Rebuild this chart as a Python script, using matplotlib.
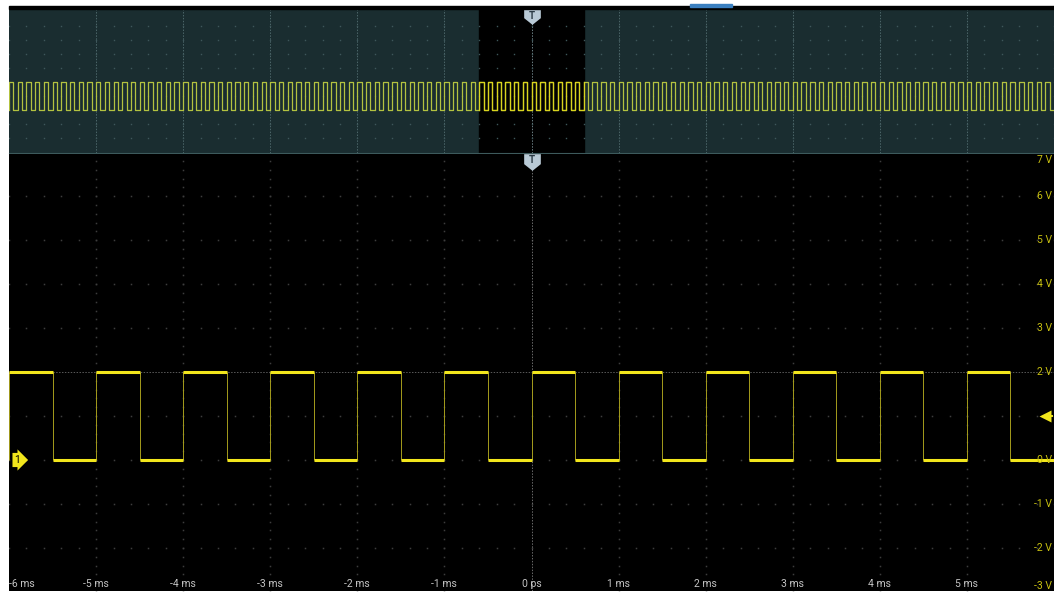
import numpy as np
import matplotlib
matplotlib.use("Agg")
import matplotlib.pyplot as plt
from matplotlib.path import Path
from matplotlib.patches import Rectangle
import matplotlib.transforms as mtransforms

# signal: 1 kHz square wave, 0 V / 2 V
period_ms = 1.0
high_v = 2.0
low_v = 0.0
rise_ms = [-6, -5, -4, -3, -2, -1, 0, 1, 2, 3, 4, 5]
fall_ms = [-5.5, -4.5, -3.5, -2.5, -1.5, -0.5, 0.5, 1.5, 2.5, 3.5, 4.5, 5.5]

# view ranges
main_span_ms = (-6, 6)
overview_span_ms = (-60, 60)
volt_range = (-2.98, 6.96)
overview_volt_range = (-3.07, 7.2)

time_ticks = [-6, -5, -4, -3, -2, -1, 0, 1, 2, 3, 4, 5]
time_labels = ["-6 ms", "-5 ms", "-4 ms", "-3 ms", "-2 ms", "-1 ms", "0 ps",
               "1 ms", "2 ms", "3 ms", "4 ms", "5 ms"]
volt_ticks = [7, 6, 5, 4, 3, 2, 0, -1, -2, -3]
volt_labels = ["7 V", "6 V", "5 V", "4 V", "3 V", "2 V", "0 V", "-1 V", "-2 V", "-3 V"]
trigger_level_v = 1.0

YELLOW = "#f2e61c"
TEAL = "#1a2d30"
W, H = 1054, 593

plt.rcParams["font.family"] = ["Roboto", "DejaVu Sans"]

fig = plt.figure(figsize=(W / 100, H / 100), dpi=100, facecolor="white")

def fx(px):
    return px / W

def fy(py):
    return 1 - py / H

ax_ov = fig.add_axes([fx(9), fy(153), 1 - fx(9), fy(9) - fy(153)])
ax = fig.add_axes([fx(9), fy(591), 1 - fx(9), fy(154) - fy(591)])

# top strip
fig.patches.append(Rectangle((fx(9), fy(9)), 1 - fx(9), fy(6) - fy(9),
                             transform=fig.transFigure, color="black", zorder=0))
fig.patches.append(Rectangle((fx(690), fy(7)), fx(42), fy(4) - fy(7),
                             transform=fig.transFigure, color="#3a7fc0", zorder=1))

# ---------- overview ----------
ax_ov.set_facecolor(TEAL)
ax_ov.set_xlim(*overview_span_ms)
ax_ov.set_ylim(*overview_volt_range)
ax_ov.axvspan(main_span_ms[0], main_span_ms[1], color="black", zorder=1)

for t in np.arange(-50, 60, 10):
    if t == 0:
        continue
    ax_ov.axvline(t, color="#4c6669", lw=0.7, ls=(0, (1.5, 1.5)), zorder=2)
ax_ov.axvline(0, color="#6c7f84", lw=0.7, ls=(0, (1.5, 1.5)), zorder=2)
dot_x = np.arange(-60, 60.1, 2)
for v in range(-2, 7):
    ax_ov.plot(dot_x, np.full_like(dot_x, v, dtype=float), ls="", marker="s",
               ms=1.0, color="#3e575b", mec="none", zorder=2)

ov_rise = np.arange(overview_span_ms[0], overview_span_ms[1], period_ms)
ov_t, ov_v = [], []
for r in ov_rise:
    ov_t += [r, r, r + period_ms / 2, r + period_ms / 2]
    ov_v += [low_v, high_v, high_v, low_v]
ov_t.append(overview_span_ms[1])
ov_v.append(low_v)
ov_t = np.array(ov_t)
ov_v = np.array(ov_v)
ax_ov.plot(ov_t, ov_v, color="#b3c240", lw=0.9, zorder=3)
inside = (ov_t >= main_span_ms[0]) & (ov_t <= main_span_ms[1])
ax_ov.plot(ov_t[inside], ov_v[inside], color="#d9d41e", lw=0.9, zorder=4)

ax_ov.set_xticks([])
ax_ov.set_yticks([])
for s in ax_ov.spines.values():
    s.set_visible(False)
ax_ov.spines["bottom"].set_visible(True)
ax_ov.spines["bottom"].set_color("#3d5a5c")

# ---------- main ----------
ax.set_facecolor("black")
ax.set_xlim(*main_span_ms)
ax.set_ylim(*volt_range)

dx = np.arange(-6, 6.01, 0.2)
for v in range(-2, 8):
    if v == 2:
        continue
    ax.plot(dx, np.full_like(dx, v, dtype=float), ls="", marker="s", ms=1.1,
            color="#3d3d3d", mec="none", zorder=1)
dy = np.arange(-3, 7.1, 0.2)
for t in range(-5, 6):
    if t == 0:
        continue
    ax.plot(np.full_like(dy, t, dtype=float), dy, ls="", marker="s", ms=1.1,
            color="#3d3d3d", mec="none", zorder=1)
ax.axvline(0, color="#6a6a6a", lw=0.7, ls=(0, (1.5, 1.5)), zorder=1)
ax.axhline(2, color="#5a5a5a", lw=0.7, ls=(0, (1.5, 1.5)), zorder=1)

# waveform
lows_start = fall_ms
lows_end = rise_ms[1:] + [main_span_ms[1]]
ax.vlines(rise_ms + fall_ms, low_v, high_v, color="#a59c1c", lw=0.7, zorder=3)
ax.hlines([high_v] * len(rise_ms), rise_ms, fall_ms, color=YELLOW, lw=2.2, zorder=4)
ax.hlines([low_v] * len(fall_ms), lows_start, lows_end, color=YELLOW, lw=2.2, zorder=4)

ax.set_xticks([])
ax.set_yticks([])
for s in ax.spines.values():
    s.set_visible(False)

# time labels
tx = mtransforms.blended_transform_factory(ax.transData, ax.transAxes)
for t, lab in zip(time_ticks, time_labels):
    ha = "left" if t == main_span_ms[0] else "center"
    ax.text(t, 0.004, lab, transform=tx, ha=ha, va="bottom", fontsize=7.5,
            color="#c4c4c4", zorder=6)

# volt labels (right edge)
vy = mtransforms.blended_transform_factory(ax.transAxes, ax.transData)
for v, lab in zip(volt_ticks, volt_labels):
    if v == volt_ticks[-1]:
        va, yy = "bottom", v + 0.02
    elif v == volt_ticks[0]:
        va, yy = "top", volt_range[1] - 0.02
    else:
        va, yy = "center", v
    ax.text(0.998, yy, lab, transform=vy, ha="right", va=va, fontsize=7.5,
            color="#c8c010", zorder=6)

# channel 1 marker
ax.annotate("1", xy=(main_span_ms[0], low_v), xytext=(4, 0),
            textcoords="offset points", fontsize=7.5, color="black", ha="left",
            va="center", zorder=7,
            bbox=dict(boxstyle="rarrow,pad=0.2", fc=YELLOW, ec="none"))

# trigger level arrow
ax.plot([0.991], [trigger_level_v], transform=vy, marker="<", ms=8,
        color=YELLOW, mec="none", zorder=7, clip_on=False)
ax.plot([0.991, 0.998], [trigger_level_v, trigger_level_v], transform=vy,
        color=YELLOW, lw=1.4, zorder=7)

# trigger T markers
shield = Path([(-1, 1), (1, 1), (1, -0.2), (0, -1), (-1, -0.2), (-1, 1)],
              [Path.MOVETO, Path.LINETO, Path.LINETO, Path.LINETO, Path.LINETO,
               Path.CLOSEPOLY])
for a, ypos in ((ax_ov, 0.95), (ax, 0.982)):
    tr = mtransforms.blended_transform_factory(a.transData, a.transAxes)
    a.plot([0], [ypos], transform=tr, marker=shield, ms=12, color="#b9cad6",
           mec="none", zorder=8, clip_on=False)
    a.text(0, ypos + 0.004, "T", transform=tr, ha="center", va="center",
           fontsize=7, fontweight="bold", color="#2a3a44", zorder=9)

fig.savefig("out.png", dpi=100, facecolor="white")
